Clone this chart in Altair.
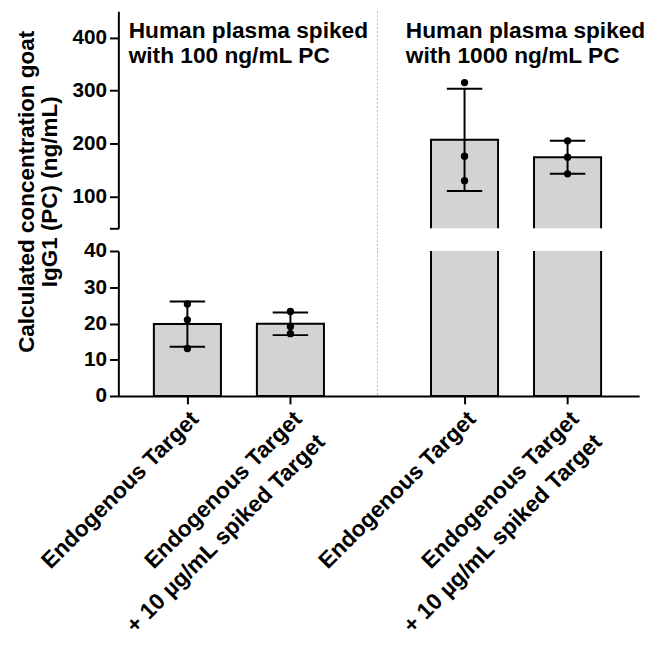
import altair as alt
import pandas as pd
import numpy as np

# ---- data ----
group_titles = ["Human plasma spiked\nwith 100 ng/mL PC",
                "Human plasma spiked\nwith 1000 ng/mL PC"]
condition_labels = ["Endogenous Target",
                    "Endogenous Target\n+ 10 µg/mL spiked Target"]
y_title = "Calculated concentration goat\nIgG1 (PC) (ng/mL)"

pc100_endogenous = [25.4, 21.0, 13.1]
pc100_spiked = [23.3, 19.2, 17.2]
pc1000_endogenous = [315.4, 176.1, 130.0]
pc1000_spiked = [205.2, 174.2, 143.0]

replicates = [[pc100_endogenous, pc100_spiked],
              [pc1000_endogenous, pc1000_spiked]]

top_ticks = [40, 100, 200, 300, 400]
bottom_ticks = [0, 10, 20, 30, 40]

# ---- layout constants ----
GROUP_STEP = 2.69
CAP_HALF = 0.172
FONT = "Liberation Sans, Arial, sans-serif"
TOP_H, BOT_H, W, GAP = 220, 147, 528, 23
X_DOMAIN = [-0.67, 4.385]

pts, summ, labels = [], [], []
for gi, grp in enumerate(replicates):
    for ci, vals in enumerate(grp):
        pos = gi * GROUP_STEP + ci
        for v in vals:
            pts.append({"pos": pos, "value": v})
        arr = np.array(vals)
        m, s = float(arr.mean()), float(arr.std(ddof=1))
        summ.append({"pos": pos, "mean": m, "lo": m - s, "hi": m + s,
                     "c1": pos - CAP_HALF, "c2": pos + CAP_HALF})
        labels.append({"pos": pos, "text": condition_labels[ci]})
pts = pd.DataFrame(pts)
summ = pd.DataFrame(summ)
labels = pd.DataFrame(labels)

divider = pd.DataFrame({"pos": [(1 + GROUP_STEP) / 2]})
titles = pd.DataFrame({"pos": [gi * GROUP_STEP - 0.57 for gi in range(2)],
                       "text": group_titles})
ytitle = pd.DataFrame({"text": [y_title]})


def panel(domain, height, ticks, is_top):
    xs = alt.Scale(domain=X_DOMAIN, nice=False, zero=False, padding=0)
    ys = alt.Scale(domain=domain, nice=False, zero=False)
    if is_top:
        xaxis = None
        yaxis = alt.Axis(values=ticks, title=None, grid=False,
                         labelExpr="datum.value == 40 ? '' : datum.label")
    else:
        xaxis = alt.Axis(values=list(labels["pos"]), title=None, labels=False,
                         tickSize=8)
        yaxis = alt.Axis(values=ticks, title=None, grid=False)
    X = lambda f: alt.X(f, scale=xs, axis=xaxis)
    Y = lambda f: alt.Y(f, scale=ys, axis=yaxis)
    lo_lim, hi_lim = domain
    if is_top:
        rule = alt.Chart(divider).mark_rule(color="#b4b4b4", strokeWidth=1,
                                            strokeDash=[2, 2]).encode(
            x=X("pos:Q"), y=alt.value(0), y2=alt.value(height + GAP))
    else:
        rule = alt.Chart(divider).mark_rule(color="#b4b4b4", strokeWidth=1,
                                            strokeDash=[2, 2]).encode(x=X("pos:Q"))
    bars = alt.Chart(summ).mark_bar(size=68, fill="#d3d3d3", stroke="black",
                                     strokeWidth=2, clip=True).encode(
        x=X("pos:Q"), y=Y("mean:Q"))
    vis = summ[(summ["lo"] >= lo_lim) & (summ["hi"] <= hi_lim)]
    vis_pts = pts[(pts["value"] >= lo_lim) & (pts["value"] <= hi_lim)]
    err = alt.Chart(vis).mark_rule(color="black", strokeWidth=2).encode(
        x=X("pos:Q"), y=Y("lo:Q"), y2="hi:Q")
    cap_hi = alt.Chart(vis).mark_rule(color="black", strokeWidth=2).encode(
        x=X("c1:Q"), x2="c2:Q", y=Y("hi:Q"))
    cap_lo = alt.Chart(vis).mark_rule(color="black", strokeWidth=2).encode(
        x=X("c1:Q"), x2="c2:Q", y=Y("lo:Q"))
    dots = alt.Chart(vis_pts).mark_circle(size=55, color="black", opacity=1).encode(
        x=X("pos:Q"), y=Y("value:Q"))
    layers = [rule, bars, err, cap_hi, cap_lo, dots]
    if is_top:
        txt = alt.Chart(titles).mark_text(align="left", baseline="alphabetic",
                                          font=FONT, fontWeight="bold",
                                          fontSize=23, lineHeight=25,
                                          lineBreak="\n", color="black").encode(
            x=X("pos:Q"), y=alt.value(27), text="text:N")
        yt = alt.Chart(ytitle).mark_text(align="center", baseline="top",
                                         angle=270, font=FONT, fontWeight="bold",
                                         fontSize=22.8, lineHeight=24,
                                         lineBreak="\n", color="black").encode(
            x=alt.value(-104), y=alt.value(183), text="text:N")
        layers += [txt, yt]
    else:
        xl = alt.Chart(labels).mark_text(align="right", baseline="top",
                                         angle=315, font=FONT, fontWeight="bold",
                                         fontSize=23, lineHeight=33,
                                         lineBreak="\n", color="black").encode(
            x=X("pos:Q"), y=alt.value(height + 12), text="text:N")
        layers.append(xl)
    return alt.layer(*layers).properties(width=W, height=height)


top = panel([40, 450], TOP_H, top_ticks, True)
bottom = panel([0, 40], BOT_H, bottom_ticks, False)

chart = alt.vconcat(top, bottom, spacing=GAP, bounds="flush").properties(
    padding={"left": 16, "top": 6, "right": 5, "bottom": 2}
).configure_view(strokeWidth=0).configure_axis(
    domainColor="black", domainWidth=2, tickColor="black", tickWidth=2,
    tickSize=9, labelColor="black", labelFont=FONT, labelFontWeight="bold",
    labelFontSize=21, labelPadding=3, grid=False
)

chart.save("out.html", embed_options={"renderer": "svg", "actions": False})
